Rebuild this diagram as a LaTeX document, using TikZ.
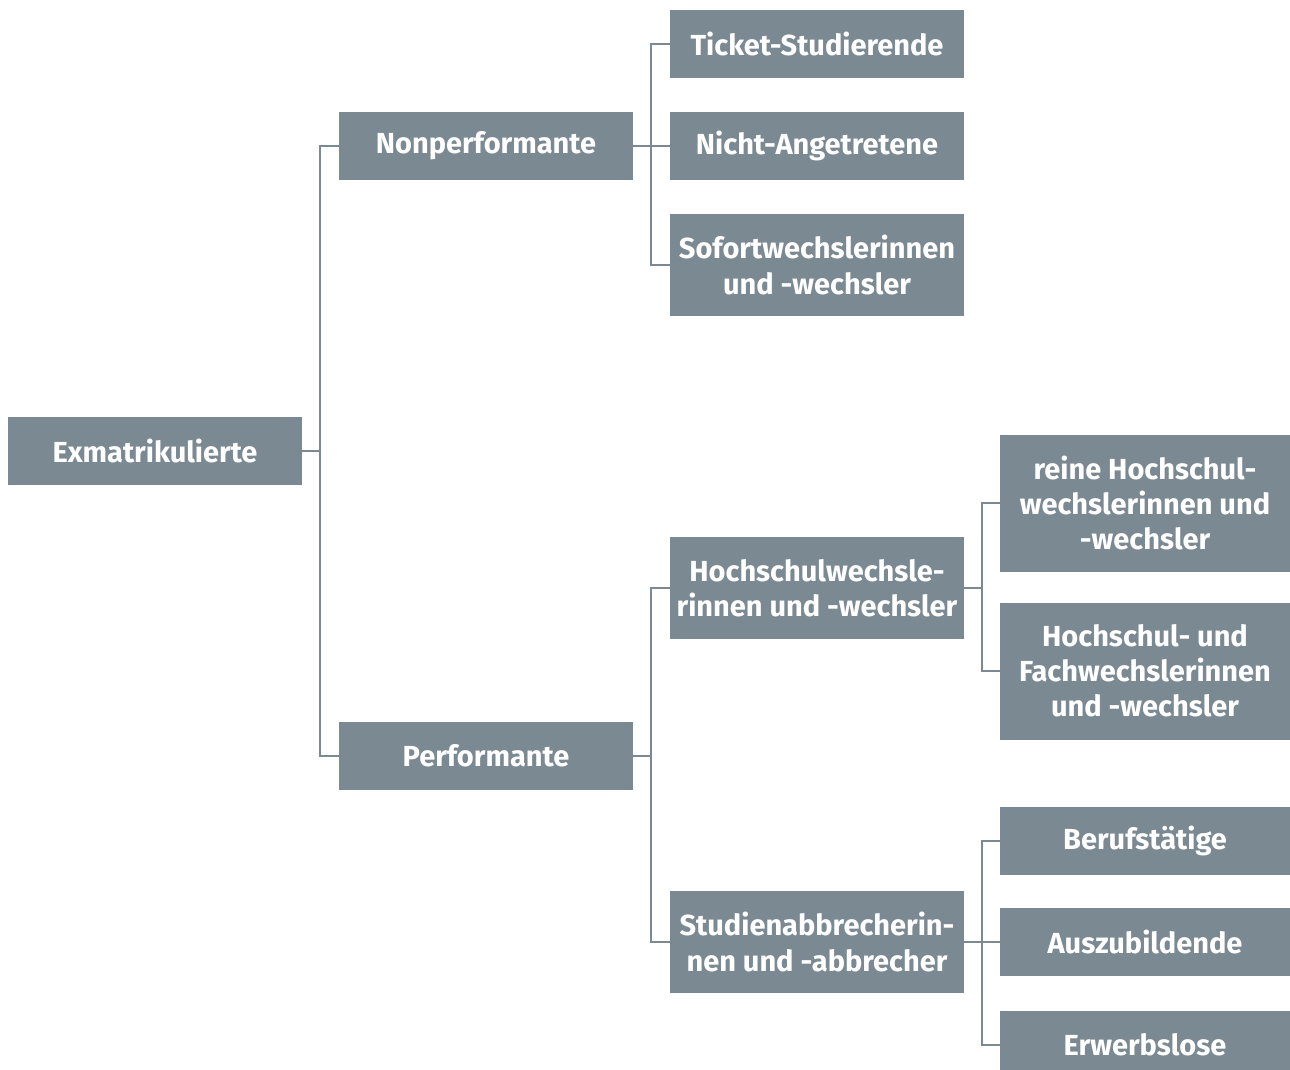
\documentclass[tikz,border=0pt]{standalone}
\usepackage{fontspec}
\setmainfont{Fira Sans}
\definecolor{boxgray}{HTML}{7B8A92}

\begin{document}
\begin{tikzpicture}[x=0.02cm,y=-0.02cm,
	box/.style={fill=boxgray,text=white,inner sep=0pt,align=center,minimum width=294*0.02cm,minimum height=68*0.02cm,font=\bfseries\fontsize{16.5}{20}\selectfont},
	tall/.style={minimum height=102*0.02cm},
	link/.style={draw=boxgray,line width=0.045cm}]
	\useasboundingbox (0,0) rectangle (1290,1069);
	\node[box] (ex) at (155,451) {Exmatrikulierte};
	\node[box] (np) at (486,146) {Nonperformante};
	\node[box] (pf) at (486,756) {Performante};
	\node[box] (ts) at (817,44) {Ticket-Studierende};
	\node[box] (na) at (817,146) {Nicht-Angetretene};
	\node[box,tall] (sw) at (817,265) {Sofortwechslerinnen\\und -wechsler};
	\node[box,tall] (hw) at (817,588) {Hochschulwechsle-\\rinnen und -wechsler};
	\node[box,tall] (sa) at (817,942) {Studienabbrecherin-\\nen und -abbrecher};
	\node[box,minimum width=290*0.02cm,minimum height=137*0.02cm] (rh) at (1145,503) {reine Hochschul-\\wechslerinnen und\\-wechsler};
	\node[box,minimum width=290*0.02cm,minimum height=137*0.02cm] (hf) at (1145,671) {Hochschul- und\\Fachwechslerinnen\\und -wechsler};
	\node[box,minimum width=290*0.02cm] (bt) at (1145,841) {Berufstätige};
	\node[box,minimum width=290*0.02cm] (az) at (1145,942) {Auszubildende};
	\node[box,minimum width=290*0.02cm] (el) at (1145,1045) {Erwerbslose};
	\foreach \A/\B in {ex/np,ex/pf,np/ts,np/na,np/sw,pf/hw,pf/sa,hw/rh,hw/hf,sa/bt,sa/az,sa/el}
		\draw[link] (\A.east) -- ++(18,0) |- (\B);
\end{tikzpicture}
\end{document}
